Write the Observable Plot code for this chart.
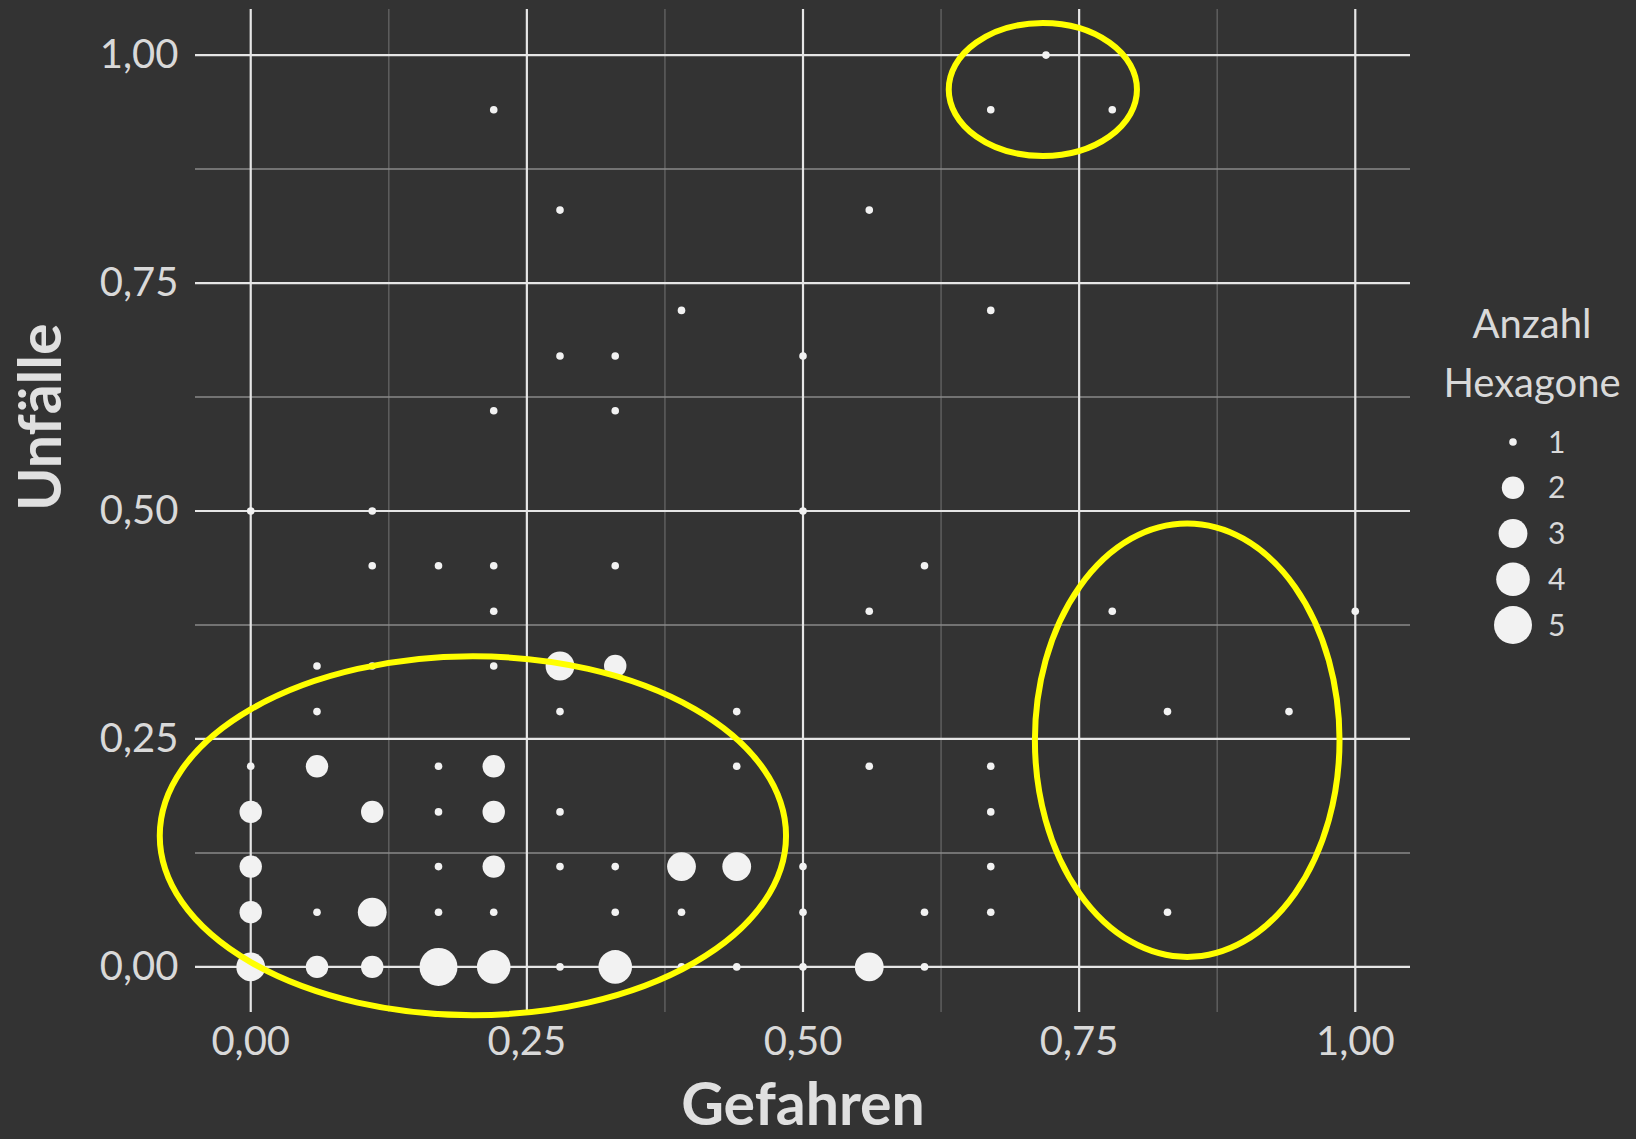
<!DOCTYPE html>
<html>
<head>
<meta charset="utf-8">
<script src="https://cdn.jsdelivr.net/npm/d3@7"></script>
<script src="https://cdn.jsdelivr.net/npm/@observablehq/plot@0.6"></script>
<style>
  html, body { margin: 0; padding: 0; background: #333333; }
  #wrap { position: relative; width: 1636px; height: 1139px; overflow: hidden; background: #333333; font-family: Lato, "Open Sans", sans-serif; }
  #legend { position: absolute; left: 1400px; top: 290px; }
</style>
</head>
<body>
<div id="wrap"></div>
<script>
// ---- data ----
const gefahren = [
  0.72,
  0.22, 0.67, 0.78,
  0.28, 0.56,
  0.39, 0.67,
  0.28, 0.33, 0.50,
  0.22, 0.33,
  0.00, 0.11, 0.50,
  0.11, 0.17, 0.22, 0.33, 0.61,
  0.22, 0.56, 0.78, 1.00,
  0.06, 0.11, 0.22, 0.28, 0.33,
  0.06, 0.28, 0.44, 0.83, 0.94,
  0.00, 0.06, 0.17, 0.22, 0.44, 0.56, 0.67,
  0.00, 0.11, 0.17, 0.22, 0.28, 0.67,
  0.00, 0.17, 0.22, 0.28, 0.33, 0.39, 0.44, 0.50, 0.67,
  0.00, 0.06, 0.11, 0.17, 0.22, 0.33, 0.39, 0.50, 0.61, 0.67, 0.83,
  0.00, 0.06, 0.11, 0.17, 0.22, 0.28, 0.33, 0.39, 0.44, 0.50, 0.56, 0.61
];
const unfaelle = [
  1.00,
  0.94, 0.94, 0.94,
  0.83, 0.83,
  0.72, 0.72,
  0.67, 0.67, 0.67,
  0.61, 0.61,
  0.50, 0.50, 0.50,
  0.44, 0.44, 0.44, 0.44, 0.44,
  0.39, 0.39, 0.39, 0.39,
  0.33, 0.33, 0.33, 0.33, 0.33,
  0.28, 0.28, 0.28, 0.28, 0.28,
  0.22, 0.22, 0.22, 0.22, 0.22, 0.22, 0.22,
  0.17, 0.17, 0.17, 0.17, 0.17, 0.17,
  0.11, 0.11, 0.11, 0.11, 0.11, 0.11, 0.11, 0.11, 0.11,
  0.06, 0.06, 0.06, 0.06, 0.06, 0.06, 0.06, 0.06, 0.06, 0.06, 0.06,
  0.00, 0.00, 0.00, 0.00, 0.00, 0.00, 0.00, 0.00, 0.00, 0.00, 0.00, 0.00
];
const anzahl = [
  1,
  1, 1, 1,
  1, 1,
  1, 1,
  1, 1, 1,
  1, 1,
  1, 1, 1,
  1, 1, 1, 1, 1,
  1, 1, 1, 1,
  1, 1, 1, 3, 2,
  1, 1, 1, 1, 1,
  1, 2, 1, 2, 1, 1, 1,
  2, 2, 1, 2, 1, 1,
  2, 1, 2, 1, 1, 3, 3, 1, 1,
  2, 1, 3, 1, 1, 1, 1, 1, 1, 1, 1,
  3, 2, 2, 5, 4, 1, 4, 1, 1, 1, 3, 1
];
const majorTicks = [0, 0.25, 0.5, 0.75, 1];
const minorTicks = [0.125, 0.375, 0.625, 0.875];
const legendValues = [1, 2, 3, 4, 5];
const xTitle = "Gefahren";
const yTitle = "Unfälle";
const legendTitle = ["Anzahl", "Hexagone"];
// yellow annotation ellipses (data units)
const ellipseCx = [0.2016, 0.7176, 0.8483];
const ellipseCy = [0.1433, 0.9617, 0.2481];
const ellipseRx = [0.2835, 0.0852, 0.1379];
const ellipseRy = [0.1968, 0.0729, 0.2377];

const fmt = d => d3.format(".2f")(d).replace(".", ",");
const idx = d3.range(gefahren.length);
const textColor = "#d9d9d9";

const plot = Plot.plot({
  width: 1636,
  height: 1139,
  marginLeft: 195,
  marginRight: 226,
  marginTop: 9,
  marginBottom: 127,
  style: { background: "#333333", color: textColor, fontFamily: "Lato, 'Open Sans', sans-serif", overflow: "hidden" },
  x: { domain: [-0.05, 1.05] },
  y: { domain: [-0.05, 1.05] },
  r: { type: "linear", domain: [1, 2, 3, 4, 5], range: [3.8, 11.2, 14.4, 16.8, 19] },
  marks: [
    Plot.ruleX(minorTicks, { stroke: "#5f5f5f", strokeWidth: 1.5 }),
    Plot.ruleY(minorTicks, { stroke: "#8a8a8a", strokeWidth: 1.6 }),
    Plot.ruleX(majorTicks, { stroke: "#e6e6e6", strokeWidth: 2.2 }),
    Plot.ruleY(majorTicks, { stroke: "#e6e6e6", strokeWidth: 2.2 }),
    Plot.axisX({ ticks: majorTicks, tickSize: 0, tickPadding: 14, tickFormat: fmt, fontSize: 40, label: null, color: textColor }),
    Plot.axisY({ ticks: majorTicks, tickSize: 0, tickPadding: 17, tickFormat: fmt, fontSize: 40, label: null, color: textColor }),
    Plot.dot(idx, { x: i => gefahren[i], y: i => unfaelle[i], r: i => anzahl[i], fill: "#f2f2f2", stroke: "none" }),
    Plot.text([xTitle], { text: d => d, frameAnchor: "bottom", dy: 94, lineAnchor: "middle", fontSize: 59, fontWeight: "bold", fill: "#e0e0e0" }),
    Plot.text([yTitle], { text: d => d, frameAnchor: "left", dx: -153, rotate: -90, lineAnchor: "middle", fontSize: 59, fontWeight: "bold", fill: "#e0e0e0" })
  ]
});

// annotation ellipses through the plot's scales
const sx = plot.scale("x"), sy = plot.scale("y"), sr = plot.scale("r");
const svg = d3.select(plot);
const g = svg.append("g").attr("fill", "none").attr("stroke", "#ffff00").attr("stroke-width", 6);
ellipseCx.forEach((cx, i) => {
  const cy = ellipseCy[i];
  g.append("ellipse")
    .attr("cx", sx.apply(cx))
    .attr("cy", sy.apply(cy))
    .attr("rx", sx.apply(cx + ellipseRx[i]) - sx.apply(cx))
    .attr("ry", sy.apply(cy - ellipseRy[i]) - sy.apply(cy));
});

const wrap = document.getElementById("wrap");
wrap.appendChild(plot);

// size legend
const leg = d3.select(wrap).append("svg").attr("id", "legend")
  .attr("width", 236).attr("height", 360)
  .style("font-family", "Lato, 'Open Sans', sans-serif");
leg.selectAll("text.title").data(legendTitle).join("text")
  .attr("class", "title")
  .attr("x", 132).attr("y", (d, i) => 48 + i * 59)
  .attr("text-anchor", "middle").attr("font-size", 40).attr("fill", textColor)
  .text(d => d);
leg.selectAll("circle").data(legendValues).join("circle")
  .attr("cx", 113).attr("cy", (d, i) => 152 + i * 45.75)
  .attr("r", d => sr.apply(d)).attr("fill", "#f2f2f2");
leg.selectAll("text.lab").data(legendValues).join("text")
  .attr("class", "lab")
  .attr("x", 148).attr("y", (d, i) => 152 + i * 45.75)
  .attr("dy", "0.35em").attr("font-size", 30).attr("fill", textColor)
  .text(d => d);
</script>
</body>
</html>
